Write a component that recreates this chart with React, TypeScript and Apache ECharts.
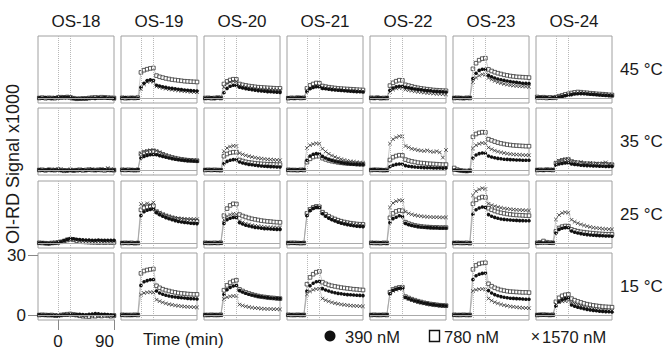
import React, { useEffect, useRef } from 'react';
import * as echarts from 'echarts';

const PEPTIDES = ['OS-18', 'OS-19', 'OS-20', 'OS-21', 'OS-22', 'OS-23', 'OS-24'];
const TEMPERATURES = ['45 °C', '35 °C', '25 °C', '15 °C'];
const CONCENTRATIONS = ['390 nM', '780 nM', '1570 nM'];
const TIMES = [-30, -25, -20, -15, -10, -5, 0, 5, 10, 15, 20, 25, 30, 35, 40, 45, 50, 55, 60, 65, 70, 75, 80, 85, 90];
const X_TICKS = [0, 90];
const Y_TICKS = [0, 30];
const PHASE_LINES = [0, 20];

// 45 °C
const R45_390 = [
  [0.1,-0.1,0.2,0,-0.2,0.1, 0.3,0.2,0.4,0.3,0.2,-0.2,-0.3,-0.4,-0.3,-0.2,-0.1,0,-0.2,0.1,0,0.2,-0.1,0,-0.2],
  [0,0.2,-0.1,0.1,0,-0.1, 5.3,7.4,8.7,9.1,8.8,6.4,6.0,5.6,5.3,5.0,4.8,4.6,4.4,4.2,4.0,3.9,3.7,3.6,3.5],
  [-0.1,0,0.1,-0.2,0.1,0, 2.6,4.8,5.9,6.4,6.3,5.4,5.0,4.7,4.4,4.1,3.9,3.7,3.5,3.4,3.2,3.1,3.0,2.9,2.8],
  [0.1,0,-0.1,0.1,0.2,0, 3.2,4.6,5.3,5.6,5.5,4.8,4.6,4.4,4.2,4.0,3.9,3.8,3.6,3.5,3.4,3.3,3.2,3.1,3.0],
  [0,-0.1,0.1,0,-0.1,0.1, 3.9,5.0,5.6,5.9,5.9,5.4,5.1,4.8,4.5,4.3,4.1,3.9,3.7,3.6,3.4,3.3,3.2,3.1,3.0],
  [0.1,0,0.1,-0.1,0,0.1, 9.7,12.4,13.8,14.4,14.3,11.3,10.6,10.0,9.5,9.1,8.8,8.5,8.2,8.0,7.8,7.6,7.4,7.3,7.2],
  [0.2,0.4,0.1,0.3,-0.1,0.2, 0.2,0.5,0.8,1.1,1.4,1.7,2.0,2.1,2.2,2.1,2.0,1.9,1.8,1.6,1.5,1.4,1.3,1.2,1.1],
];
const R45_780 = [
  [0,0.2,-0.1,0.1,0,-0.1, 0.2,0.4,0.3,0.5,0.3,-0.1,-0.4,-0.3,-0.2,-0.3,0,0.2,0.3,0.2,0.4,0.3,0.2,0.1,0],
  [0.1,-0.1,0,0.1,0,0.2, 12.8,13.9,14.4,14.8,15.0,11.2,10.6,10.2,9.8,9.5,9.2,9.0,8.8,8.6,8.4,8.3,8.2,8.1,8.0],
  [0,0.1,-0.1,0,0.2,0, 7.0,8.3,9.0,9.4,9.3,7.0,6.6,6.3,6.0,5.8,5.6,5.4,5.3,5.2,5.1,5.0,4.9,4.8,4.8],
  [-0.1,0.1,0,0.2,0,0.1, 4.8,6.3,7.0,7.5,7.4,6.0,5.7,5.4,5.2,5.0,4.8,4.7,4.6,4.5,4.4,4.3,4.2,4.1,4.0],
  [0.1,0,0.2,-0.1,0,0, 6.2,7.6,8.4,8.9,8.8,6.6,6.2,5.8,5.4,5.1,4.8,4.6,4.4,4.2,4.0,3.9,3.8,3.7,3.6],
  [0,0.1,0,-0.1,0.1,0, 14.6,17.4,18.9,19.7,19.9,14.3,13.5,12.9,12.4,12.0,11.6,11.3,11.0,10.8,10.6,10.5,10.4,10.3,10.2],
  [0.5,0.2,0.4,0,0.3,0.1, 0.4,0.9,1.3,1.8,2.1,2.5,2.8,3.0,2.9,2.7,2.6,2.4,2.3,2.1,2.0,1.9,1.8,1.6,1.5],
];
const R45_1570 = [
  [-0.1,0,0.1,-0.2,0.1,0, 0.1,0.2,0.3,0.1,0.2,-0.3,-0.5,-0.4,-0.4,-0.2,-0.1,-0.2,0,0.1,-0.1,0,0.1,-0.1,-0.3],
  [0,0.1,0,-0.1,0.1,0, 4.6,6.8,8.0,8.4,8.1,5.8,5.4,5.0,4.7,4.4,4.2,4.0,3.8,3.6,3.4,3.3,3.1,3.0,2.9],
  [0.1,0,-0.1,0,0.1,-0.1, 5.5,7.2,8.0,8.4,8.3,6.2,5.8,5.5,5.2,5.0,4.8,4.6,4.5,4.4,4.3,4.2,4.1,4.0,4.0],
  [0,-0.1,0.1,0,0,0.1, 3.8,5.0,5.7,6.0,5.9,5.2,5.0,4.8,4.6,4.4,4.2,4.1,3.9,3.8,3.7,3.6,3.5,3.4,3.3],
  [0.1,0,0,0.1,-0.1,0, 3.0,4.2,4.8,5.1,5.0,4.2,3.9,3.6,3.3,3.1,2.9,2.7,2.5,2.4,2.2,2.1,2.0,1.9,1.8],
  [0,0.1,-0.1,0,0.1,0, 8.0,10.2,11.2,11.8,11.7,10.0,9.2,8.5,7.9,7.4,7.0,6.7,6.4,6.2,6.0,5.9,5.8,5.7,5.6],
  [0.3,0.1,0.4,0.2,0,0.3, 0.3,0.7,1.0,1.4,1.7,2.0,2.3,2.5,2.6,2.4,2.3,2.1,2.0,1.8,1.7,1.6,1.5,1.4,1.2],
];

// 35 °C
const R35_390 = [
  [0.1,-0.1,0,0.2,-0.1,0, 0.1,-0.2,0,-0.3,-0.1,-0.2,0,-0.1,0.1,-0.2,0,0.1,-0.1,0,0.2,0.1,0,-0.1,0],
  [0,0.1,-0.1,0.1,0,0.2, 6.0,6.8,7.3,7.6,7.7,7.6,7.2,6.8,6.4,6.0,5.7,5.4,5.2,5.0,4.8,4.7,4.6,4.5,4.4],
  [0.1,0,0.1,-0.1,0,0, 3.2,4.3,4.9,5.2,5.2,4.0,3.5,3.1,2.8,2.6,2.4,2.2,2.0,1.9,1.8,1.7,1.6,1.5,1.5],
  [0,0.1,0,0.1,-0.1,0.1, 4.9,7.0,7.9,8.2,8.1,6.8,6.0,5.3,4.8,4.4,4.0,3.7,3.4,3.2,3.0,2.9,2.8,2.7,2.7],
  [0.1,0.2,0,0.1,0,-0.1, 1.6,2.4,2.8,3.0,3.0,2.2,1.9,1.7,1.5,1.4,1.3,1.2,1.1,1.1,1.0,1.0,1.0,0.9,1.0],
  [0,-0.2,-0.3,-0.5,-0.6,-0.4, 6.0,7.5,8.2,8.5,8.4,7.0,6.5,6.1,5.8,5.6,5.4,5.3,5.2,5.1,5.0,5.0,4.9,4.9,4.9],
  [0.1,0,-0.1,0.1,0,0.1, 2.4,3.0,3.3,3.5,3.5,3.0,2.8,2.6,2.4,2.3,2.2,2.1,2.0,2.0,1.9,1.9,1.8,1.8,1.8],
];
const R35_780 = [
  [0,0.1,-0.2,0.1,0,-0.1, 0.2,0,-0.4,-0.2,0,-0.3,-0.1,0.1,-0.2,0,0.2,0,-0.1,0.1,0,-0.2,0.1,0,-0.1],
  [0.1,0,0.1,0,-0.1,0, 8.0,8.7,9.1,9.3,9.4,9.0,8.4,7.8,7.2,6.7,6.3,5.9,5.6,5.3,5.1,4.9,4.8,4.7,4.6],
  [0,0.1,0,0.1,0,-0.1, 6.9,8.0,8.6,8.9,8.9,5.0,4.5,4.1,3.8,3.6,3.4,3.2,3.1,3.0,2.9,2.8,2.8,2.7,2.7],
  [0.1,0,0,-0.1,0.1,0, 3.9,5.6,6.5,6.9,6.9,5.9,5.3,4.8,4.4,4.1,3.8,3.6,3.4,3.3,3.2,3.1,3.0,3.0,2.9],
  [0,0.1,0.1,0,-0.1,0, 5.0,6.4,7.0,7.4,7.3,5.2,4.7,4.3,4.0,3.7,3.5,3.4,3.2,3.1,3.0,2.9,2.8,2.7,2.7],
  [1.0,0.2,-0.2,-0.4,-0.5,-0.3, 16.6,18.0,18.6,18.9,18.8,15.4,14.8,14.2,13.7,13.3,13.0,12.7,12.5,12.3,12.2,12.1,12.0,11.9,11.9],
  [0,0.1,0,0.2,0.1,0, 3.4,4.3,4.8,5.1,5.2,4.2,3.8,3.6,3.4,3.2,3.1,3.0,3.0,2.9,2.8,2.8,2.7,2.7,2.6],
];
const R35_1570 = [
  [-0.1,0.1,0,0.1,0.2,0, 0,0.3,-0.6,-0.1,0.2,0,-0.2,0.3,0.1,-0.1,0.2,0.4,0,0.2,0.5,0.3,1.0,0.4,0.1],
  [0,0.1,0,0,0.1,-0.1, 8.4,9.2,9.6,9.9,10.0,9.6,8.9,8.1,7.4,6.8,6.3,5.9,5.6,5.4,5.2,5.0,4.9,4.8,4.7],
  [0.1,0,0,0.1,-0.1,0, 9.4,11.0,11.7,12.1,12.0,8.4,7.8,7.3,6.9,6.5,6.2,5.9,5.7,5.5,5.3,5.2,5.1,5.0,4.9],
  [0,0,0.1,0,0.1,0, 11.0,12.4,13.0,13.3,13.1,10.6,9.2,8.1,7.2,6.5,5.9,5.4,5.0,4.6,4.3,4.1,3.9,3.7,3.6],
  [0.1,0,-0.1,0.1,0,0, 13.2,15.4,16.3,16.9,16.8,12.0,11.3,10.6,10.3,9.9,9.7,9.5,9.8,9.3,9.0,9.4,8.8,6.2,10.0],
  [0,-0.1,-0.3,-0.4,-0.5,-0.4, 10.8,12.4,13.1,13.5,13.4,11.2,10.4,9.7,9.2,8.8,8.5,8.2,8.0,7.8,7.7,7.6,7.5,7.4,7.4],
  [0.1,0,0.1,0,0.1,0.1, 3.6,4.5,5.0,5.3,5.3,4.4,3.9,3.3,4.0,3.4,3.0,3.6,2.8,3.3,2.6,3.5,3.8,2.9,2.7],
];

// 25 °C
const R25_390 = [
  [0,0.1,-0.2,-0.3,-0.1,0, 0.2,0.6,1.2,1.8,2.2,2.1,1.9,1.7,1.6,1.5,1.5,1.4,1.4,1.5,1.4,1.3,1.4,1.4,1.3],
  [0.1,0,0.1,-0.1,0,0.1, 13.7,15.6,16.4,16.8,17.0,15.2,14.2,13.4,12.7,12.1,11.6,11.2,10.8,10.5,10.3,10.1,9.9,9.8,9.7],
  [0,0.1,0,-0.1,0.1,0, 9.8,11.6,12.4,12.8,12.7,10.2,9.5,8.9,8.5,8.1,7.8,7.6,7.4,7.2,7.1,7.0,6.9,6.8,6.8],
  [0.1,0,-0.1,0,0.1,0, 13.6,16.2,17.3,17.8,17.6,14.6,13.4,12.4,11.6,11.0,10.4,9.9,9.5,9.2,8.9,8.6,8.4,8.3,8.2],
  [0,0.1,0,0.1,0,-0.1, 10.2,12.2,12.9,13.6,13.2,9.8,9.2,8.8,8.5,8.2,8.0,7.9,7.8,7.7,7.6,7.6,7.5,7.5,7.5],
  [0.1,0,0.1,0,-0.1,0, 14.4,16.6,17.5,18.0,17.8,14.2,13.4,12.8,12.4,12.0,11.8,11.6,11.5,11.4,11.3,11.2,11.2,11.1,11.1],
  [0,0.1,0,0.1,0,0.1, 5.0,6.8,7.4,7.7,7.6,6.0,5.4,5.0,4.7,4.4,4.2,4.0,3.9,3.8,3.7,3.6,3.5,3.5,3.4],
];
const R25_780 = [
  [0.1,0,-0.1,-0.2,0,0.1, 0.3,0.6,1.0,1.5,1.9,1.6,1.2,0.8,0.6,0.5,0.4,0.3,0.3,0.2,0.3,0.2,0.3,0.2,0.3],
  [0,0.1,0,0.1,-0.1,0, 16.6,17.6,18.0,18.3,18.6,15.6,14.8,14.1,13.5,13.0,12.5,12.1,11.8,11.5,11.3,11.1,11.0,10.9,10.8],
  [0.1,0,0,0.1,0,0.1, 13.7,17.2,18.8,19.6,19.5,14.2,13.5,13.0,12.5,12.1,11.8,11.5,11.2,11.0,10.8,10.7,10.5,10.4,10.3],
  [0,0.1,0.1,0,-0.1,0, 14.8,16.8,17.8,18.3,18.1,15.4,14.3,13.4,12.6,12.0,11.4,10.9,10.5,10.2,9.9,9.7,9.5,9.4,9.3],
  [0.1,0,0,-0.1,0.1,0, 12.6,14.8,15.8,16.3,16.1,10.4,9.7,9.2,8.8,8.5,8.3,8.1,8.0,7.9,7.8,7.8,7.7,7.7,7.7],
  [0,0.1,0,0,0.1,-0.1, 19.6,21.6,22.5,23.0,22.8,17.4,16.6,16.0,15.5,15.1,14.8,14.5,14.3,14.1,14.0,13.9,13.8,13.7,13.7],
  [0.1,0.3,1.0,0.4,0.2,0.1, 5.8,7.5,8.2,8.5,8.4,6.8,6.3,5.9,5.6,5.4,5.2,5.0,4.9,4.7,4.6,4.5,4.4,4.4,4.3],
];
const R25_1570 = [
  [0,-0.1,0,-0.2,0.1,0, 0.2,0.5,1.0,1.6,2.0,1.8,1.5,1.2,1.0,0.9,0.8,0.8,0.7,0.8,0.7,0.8,0.7,0.7,0.8],
  [0.1,0,0,0.1,0,0, 19.5,19.0,19.8,19.2,20.2,16.0,15.1,14.4,13.8,13.3,12.9,12.6,12.4,12.2,12.1,12.0,12.0,11.9,11.9],
  [0,0,0.1,0,0.1,0, 11.5,13.3,14.2,14.6,14.4,11.0,10.3,9.7,9.3,8.9,8.6,8.4,8.2,8.0,7.9,7.8,7.8,7.7,7.7],
  [0.1,0,0.1,0,0,0.1, 14.2,16.4,17.5,18.0,17.8,15.0,13.8,12.9,12.1,11.5,10.9,10.4,10.0,9.7,9.4,9.2,9.0,8.9,8.8],
  [0,0.1,0,0,-0.1,0.1, 17.8,20.0,20.9,21.4,21.2,15.6,14.8,14.3,13.9,13.6,13.4,13.2,13.1,13.0,12.9,12.9,12.8,12.8,12.8],
  [0.1,0,0,0.1,0,0, 23.8,25.9,26.8,27.4,27.0,19.6,18.9,18.4,18.0,17.6,17.3,17.1,16.9,16.7,16.6,16.5,16.4,16.3,16.2],
  [0,0.1,0.2,0.1,0,0.1, 11.8,14.0,15.0,15.4,15.1,11.6,10.6,9.9,9.3,8.8,8.4,8.0,7.7,7.5,7.3,7.1,7.0,6.9,6.8],
];

// 15 °C
const R15_390 = [
  [0.1,0,-0.1,0,-0.2,-0.3, -0.4,-0.1,0.1,0,0.2,0.1,0.2,0.3,0.2,0.1,0.4,0.5,0.7,0.6,0.4,0.3,0.2,0.1,-0.1],
  [0,0.1,0,-0.1,0,0.1, 14.8,16.6,17.2,17.6,17.7,12.0,11.0,10.4,9.9,9.5,9.2,9.0,8.8,8.6,8.5,8.3,8.2,8.1,8.0],
  [0.1,0,0,0.1,0,0, 10.3,12.6,13.8,14.5,14.8,12.2,11.5,10.9,10.4,10.0,9.6,9.3,9.1,8.9,8.7,8.5,8.4,8.3,8.2],
  [0,0.1,0,0,0.1,0, 12.0,14.6,15.9,16.6,16.9,13.2,12.5,12.0,11.5,11.1,10.8,10.6,10.4,10.2,10.1,10.0,9.9,9.8,9.7],
  [0.1,0,0,0.1,0,0.1, 10.6,12.4,13.0,13.4,13.5,8.8,8.2,7.6,7.1,6.7,6.3,6.0,5.7,5.4,5.2,5.0,4.8,4.7,4.6],
  [0,0,0.1,0,0.1,0, 17.7,19.6,20.4,20.8,21.0,12.2,11.0,10.2,9.6,9.2,8.9,8.6,8.4,8.3,8.2,8.1,8.0,7.9,7.9],
  [0.1,0.2,0,0.1,0,0, 4.4,6.6,7.6,8.2,8.5,5.0,4.4,3.9,3.5,3.1,2.8,2.5,2.3,2.1,1.9,1.8,1.7,1.6,1.5],
];
const R15_780 = [
  [0,0.1,0,-0.1,0,-0.2, -0.3,0,0.2,0.4,0.5,0.3,0,-0.4,-0.6,-0.7,-0.8,-0.5,-0.6,-0.3,-0.5,-0.2,-0.4,-0.6,-0.3],
  [0.1,0,0,0,0.1,0, 20.8,22.0,22.5,22.8,23.0,14.6,13.6,12.9,12.4,12.0,11.6,11.3,11.0,10.8,10.7,10.5,10.4,10.3,10.3],
  [0,0,0.1,0,0,0.1, 12.4,14.8,16.2,17.0,17.4,12.8,12.0,11.3,10.8,10.3,9.9,9.5,9.2,9.0,8.8,8.6,8.5,8.3,8.2],
  [0.1,0,0,0.1,0,0, 15.4,18.8,20.4,21.4,21.8,16.4,15.6,15.0,14.6,14.3,14.0,13.7,13.5,13.3,13.1,12.9,12.8,12.6,12.5],
  [0,0.1,0,0,0.1,0, 11.4,12.8,13.4,13.8,13.9,9.2,8.5,7.9,7.4,6.9,6.5,6.1,5.8,5.5,5.3,5.1,4.9,4.8,4.7],
  [0.1,0,0,0.1,0,0, 22.8,24.8,25.6,26.0,26.1,15.6,14.4,13.6,13.0,12.5,12.2,11.9,11.7,11.6,11.5,11.4,11.3,11.3,11.2],
  [0,0.1,0.2,0.1,0,0.1, 6.6,8.6,9.6,10.1,10.3,8.2,7.4,6.8,6.3,5.8,5.4,5.1,4.8,4.6,4.4,4.2,4.1,4.0,3.9],
];
const R15_1570 = [
  [0,-0.1,0.1,0,-0.1,0, -0.2,0.1,0,0.2,0.1,-0.1,-0.3,-0.2,-0.5,-0.3,-0.1,-0.4,0,-0.5,-0.2,0.1,-0.3,-0.6,-0.2],
  [0,0,0.1,0,0,0.1, 10.2,11.0,11.3,11.4,11.3,7.6,6.9,6.3,5.8,5.4,5.1,4.8,4.6,4.4,4.2,4.1,4.0,3.9,3.8],
  [0.1,0,0,0,0.1,0, 8.0,8.9,9.3,9.5,9.5,5.2,4.7,4.3,4.0,3.7,3.5,3.4,3.2,3.1,3.0,3.0,2.9,2.9,2.8],
  [0,0.1,0,0,0,0.1, 10.3,11.8,12.6,13.0,13.1,8.2,7.4,6.8,6.3,5.9,5.6,5.3,5.1,4.9,4.7,4.6,4.5,4.4,4.3],
  [0.1,0,0.1,0,0,0, 10.8,12.0,12.6,13.0,13.2,8.6,8.0,7.4,6.9,6.5,6.1,5.8,5.5,5.2,5.0,4.8,4.6,4.5,4.4],
  [0,0.1,0,0,0.1,0, 12.0,12.6,12.9,13.0,12.8,8.2,7.2,6.4,5.8,5.3,4.9,4.6,4.3,4.1,3.9,3.7,3.6,3.5,3.4],
  [0.1,0,0,0.1,0,0, 5.4,6.4,6.8,7.0,7.0,6.4,5.7,5.1,4.6,4.1,3.7,3.4,3.1,2.8,2.6,2.4,2.3,2.2,2.1],
];

const ROWS = [
  [R45_390, R45_780, R45_1570],
  [R35_390, R35_780, R35_1570],
  [R25_390, R25_780, R25_1570],
  [R15_390, R15_780, R15_1570],
];

const FONT = "'Liberation Sans', Arial, Helvetica, sans-serif";
const TEXT = '#1a1a1a';
const PANEL_LEFT = 38;
const PANEL_PITCH_X = 83;
const PANEL_W = 76;
const PANEL_TOP = 36;
const PANEL_PITCH_Y = 72.33;
const PANEL_H = 67;
const X_MIN = -32;
const X_MAX = 90;
const Y_MIN = -2.5;
const Y_MAX = 31;

const CROSS = 'path://M0,0L10,10M10,0L0,10';

export default function App() {
  const ref = useRef<HTMLDivElement>(null);

  useEffect(() => {
    if (!ref.current) return;
    const chart = echarts.init(ref.current, null, { renderer: 'svg' });

    const grids: any[] = [];
    const xAxes: any[] = [];
    const yAxes: any[] = [];
    const series: any[] = [];
    const graphics: any[] = [];

    ROWS.forEach((row, r) => {
      const top = Math.round(PANEL_TOP + r * PANEL_PITCH_Y);
      PEPTIDES.forEach((pep, c) => {
        const gi = r * PEPTIDES.length + c;
        const left = PANEL_LEFT + c * PANEL_PITCH_X;
        grids.push({
          left, top, width: PANEL_W, height: PANEL_H,
          show: true, borderColor: '#a0a0a0', borderWidth: 1, backgroundColor: 'transparent',
          containLabel: false,
        });
        const showAxes = r === ROWS.length - 1 && c === 0;
        xAxes.push({
          gridIndex: gi, type: 'value', min: X_MIN, max: X_MAX,
          show: showAxes, position: 'bottom',
          axisLine: { show: false, onZero: false },
          axisTick: { show: true, customValues: X_TICKS, length: 10, lineStyle: { color: '#888' } },
          axisLabel: { show: true, customValues: X_TICKS, fontSize: 17, color: TEXT, fontFamily: FONT, margin: 13, alignMaxLabel: 'right' },
          splitLine: { show: false },
        });
        yAxes.push({
          gridIndex: gi, type: 'value', min: Y_MIN, max: Y_MAX,
          show: showAxes, position: 'left',
          axisLine: { show: false, onZero: false },
          axisTick: { show: true, customValues: Y_TICKS, length: 10, lineStyle: { color: '#888' } },
          axisLabel: { show: true, customValues: Y_TICKS, fontSize: 17, color: TEXT, fontFamily: FONT, margin: 12 },
          splitLine: { show: false },
        });

        const [c390, c780, c1570] = row;
        const mk = (vals: number[]) => TIMES.map((t, i) => [t, vals[i]]);
        const common = {
          type: 'line', xAxisIndex: gi, yAxisIndex: gi, showSymbol: true, symbolSize: 3.6,
          lineStyle: { width: 0.5, color: '#999' }, silent: true, animation: false,
          emphasis: { disabled: true },
        };
        series.push({
          ...common, name: CONCENTRATIONS[1], data: mk(c780[c]), symbol: 'rect',
          itemStyle: { color: '#fff', borderColor: '#333', borderWidth: 0.8 },
          markLine: {
            silent: true, symbol: ['none', 'none'], label: { show: false }, animation: false,
            data: [
              ...PHASE_LINES.map((v) => ({ xAxis: v, lineStyle: { type: 'dotted', color: '#b8b8b8', width: 1 } })),
              { yAxis: 0, lineStyle: { type: 'solid', color: '#aaa', width: 1 } },
            ],
          },
        });
        series.push({
          ...common, name: CONCENTRATIONS[2], data: mk(c1570[c]), symbol: CROSS, symbolSize: 3.6,
          itemStyle: { color: 'transparent', borderColor: '#333', borderWidth: 0.8 },
        });
        series.push({
          ...common, name: CONCENTRATIONS[0], data: mk(c390[c]), symbol: 'circle',
          itemStyle: { color: '#111' },
        });

        if (r === 0) {
          graphics.push({
            type: 'text', x: left + PANEL_W / 2, y: 21,
            style: { text: pep, fontSize: 17, fontFamily: FONT, fill: TEXT, align: 'center', verticalAlign: 'middle' },
          });
        }
      });
      graphics.push({
        type: 'text', x: 620, y: top + PANEL_H / 2,
        style: { text: TEMPERATURES[r], fontSize: 17, fontFamily: FONT, fill: TEXT, align: 'left', verticalAlign: 'middle' },
      });
    });

    graphics.push({
      type: 'text', x: 13, y: 164, rotation: Math.PI / 2,
      style: { text: 'OI-RD Signal x1000', fontSize: 18, fontFamily: FONT, fill: TEXT, align: 'center', verticalAlign: 'middle' },
    });
    graphics.push({
      type: 'text', x: 143, y: 339,
      style: { text: 'Time (min)', fontSize: 17, fontFamily: FONT, fill: TEXT, align: 'left', verticalAlign: 'middle' },
    });
    // legend
    graphics.push({ type: 'circle', shape: { cx: 330, cy: 336, r: 5.5 }, style: { fill: '#111' } });
    graphics.push({
      type: 'text', x: 345, y: 337,
      style: { text: CONCENTRATIONS[0], fontSize: 16.5, fontFamily: FONT, fill: TEXT, align: 'left', verticalAlign: 'middle' },
    });
    graphics.push({ type: 'rect', shape: { x: 429.5, y: 330.5, width: 10, height: 11 }, style: { fill: '#fff', stroke: '#111', lineWidth: 1.4 } });
    graphics.push({
      type: 'text', x: 444, y: 337,
      style: { text: CONCENTRATIONS[1], fontSize: 16.5, fontFamily: FONT, fill: TEXT, align: 'left', verticalAlign: 'middle' },
    });
    graphics.push({
      type: 'text', x: 535.5, y: 336,
      style: { text: '×', fontSize: 16, fontFamily: FONT, fill: TEXT, align: 'center', verticalAlign: 'middle' },
    });
    graphics.push({
      type: 'text', x: 542, y: 337,
      style: { text: CONCENTRATIONS[2], fontSize: 16.5, fontFamily: FONT, fill: TEXT, align: 'left', verticalAlign: 'middle' },
    });

    chart.setOption({
      animation: false,
      backgroundColor: '#fff',
      grid: grids,
      xAxis: xAxes,
      yAxis: yAxes,
      series,
      graphic: graphics,
    });

    return () => chart.dispose();
  }, []);

  return <div ref={ref} style={{ position: 'fixed', left: 0, top: 0, width: 664, height: 350 }} />;
}
